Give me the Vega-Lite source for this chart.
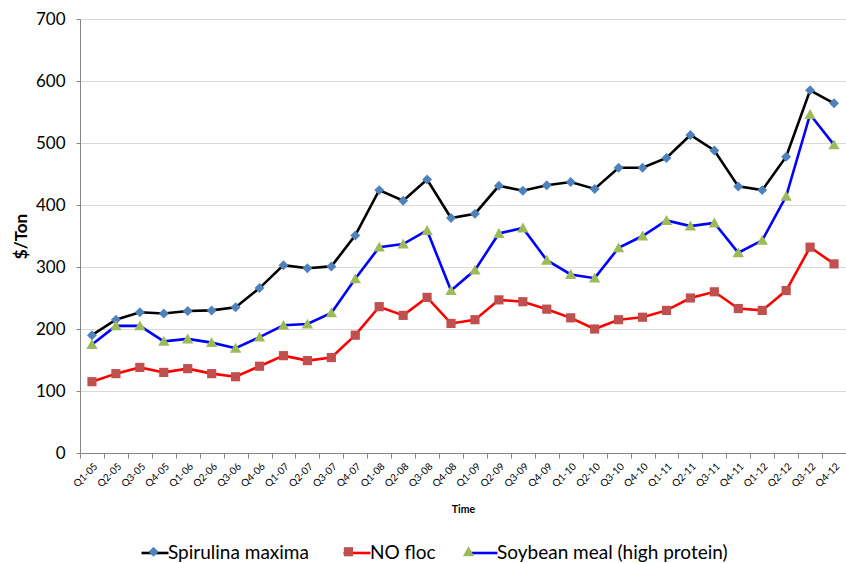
{
  "$schema": "https://vega.github.io/schema/vega-lite/v6.json",
  "width": 766,
  "height": 434,
  "autosize": {"type": "none"},
  "padding": {"left": 80, "top": 19, "right": 0, "bottom": 110},
  "background": "white",
  "config": {"view": {"stroke": null}, "font": "Lato"},
  "data": {"values": [
    {"q":"Q1-05","s":"Spirulina maxima","v":190},{"q":"Q2-05","s":"Spirulina maxima","v":215},{"q":"Q3-05","s":"Spirulina maxima","v":227},{"q":"Q4-05","s":"Spirulina maxima","v":225},
    {"q":"Q1-06","s":"Spirulina maxima","v":229},{"q":"Q2-06","s":"Spirulina maxima","v":230},{"q":"Q3-06","s":"Spirulina maxima","v":235},{"q":"Q4-06","s":"Spirulina maxima","v":266},
    {"q":"Q1-07","s":"Spirulina maxima","v":303},{"q":"Q2-07","s":"Spirulina maxima","v":298},{"q":"Q3-07","s":"Spirulina maxima","v":301},{"q":"Q4-07","s":"Spirulina maxima","v":351},
    {"q":"Q1-08","s":"Spirulina maxima","v":424},{"q":"Q2-08","s":"Spirulina maxima","v":407},{"q":"Q3-08","s":"Spirulina maxima","v":441},{"q":"Q4-08","s":"Spirulina maxima","v":379},
    {"q":"Q1-09","s":"Spirulina maxima","v":386},{"q":"Q2-09","s":"Spirulina maxima","v":431},{"q":"Q3-09","s":"Spirulina maxima","v":423},{"q":"Q4-09","s":"Spirulina maxima","v":432},
    {"q":"Q1-10","s":"Spirulina maxima","v":437},{"q":"Q2-10","s":"Spirulina maxima","v":426},{"q":"Q3-10","s":"Spirulina maxima","v":460},{"q":"Q4-10","s":"Spirulina maxima","v":460},
    {"q":"Q1-11","s":"Spirulina maxima","v":476},{"q":"Q2-11","s":"Spirulina maxima","v":513},{"q":"Q3-11","s":"Spirulina maxima","v":488},{"q":"Q4-11","s":"Spirulina maxima","v":430},
    {"q":"Q1-12","s":"Spirulina maxima","v":424},{"q":"Q2-12","s":"Spirulina maxima","v":478},{"q":"Q3-12","s":"Spirulina maxima","v":585},{"q":"Q4-12","s":"Spirulina maxima","v":564},
    {"q":"Q1-05","s":"NO floc","v":115},{"q":"Q2-05","s":"NO floc","v":128},{"q":"Q3-05","s":"NO floc","v":138},{"q":"Q4-05","s":"NO floc","v":130},
    {"q":"Q1-06","s":"NO floc","v":136},{"q":"Q2-06","s":"NO floc","v":128},{"q":"Q3-06","s":"NO floc","v":123},{"q":"Q4-06","s":"NO floc","v":140},
    {"q":"Q1-07","s":"NO floc","v":157},{"q":"Q2-07","s":"NO floc","v":149},{"q":"Q3-07","s":"NO floc","v":154},{"q":"Q4-07","s":"NO floc","v":190},
    {"q":"Q1-08","s":"NO floc","v":236},{"q":"Q2-08","s":"NO floc","v":222},{"q":"Q3-08","s":"NO floc","v":251},{"q":"Q4-08","s":"NO floc","v":209},
    {"q":"Q1-09","s":"NO floc","v":215},{"q":"Q2-09","s":"NO floc","v":247},{"q":"Q3-09","s":"NO floc","v":244},{"q":"Q4-09","s":"NO floc","v":232},
    {"q":"Q1-10","s":"NO floc","v":218},{"q":"Q2-10","s":"NO floc","v":200},{"q":"Q3-10","s":"NO floc","v":215},{"q":"Q4-10","s":"NO floc","v":219},
    {"q":"Q1-11","s":"NO floc","v":230},{"q":"Q2-11","s":"NO floc","v":250},{"q":"Q3-11","s":"NO floc","v":260},{"q":"Q4-11","s":"NO floc","v":233},
    {"q":"Q1-12","s":"NO floc","v":230},{"q":"Q2-12","s":"NO floc","v":262},{"q":"Q3-12","s":"NO floc","v":332},{"q":"Q4-12","s":"NO floc","v":305},
    {"q":"Q1-05","s":"Soybean meal (high protein)","v":175},{"q":"Q2-05","s":"Soybean meal (high protein)","v":205},{"q":"Q3-05","s":"Soybean meal (high protein)","v":205},{"q":"Q4-05","s":"Soybean meal (high protein)","v":180},
    {"q":"Q1-06","s":"Soybean meal (high protein)","v":184},{"q":"Q2-06","s":"Soybean meal (high protein)","v":178},{"q":"Q3-06","s":"Soybean meal (high protein)","v":169},{"q":"Q4-06","s":"Soybean meal (high protein)","v":187},
    {"q":"Q1-07","s":"Soybean meal (high protein)","v":206},{"q":"Q2-07","s":"Soybean meal (high protein)","v":208},{"q":"Q3-07","s":"Soybean meal (high protein)","v":226},{"q":"Q4-07","s":"Soybean meal (high protein)","v":281},
    {"q":"Q1-08","s":"Soybean meal (high protein)","v":332},{"q":"Q2-08","s":"Soybean meal (high protein)","v":337},{"q":"Q3-08","s":"Soybean meal (high protein)","v":359},{"q":"Q4-08","s":"Soybean meal (high protein)","v":262},
    {"q":"Q1-09","s":"Soybean meal (high protein)","v":295},{"q":"Q2-09","s":"Soybean meal (high protein)","v":354},{"q":"Q3-09","s":"Soybean meal (high protein)","v":363},{"q":"Q4-09","s":"Soybean meal (high protein)","v":311},
    {"q":"Q1-10","s":"Soybean meal (high protein)","v":288},{"q":"Q2-10","s":"Soybean meal (high protein)","v":282},{"q":"Q3-10","s":"Soybean meal (high protein)","v":331},{"q":"Q4-10","s":"Soybean meal (high protein)","v":350},
    {"q":"Q1-11","s":"Soybean meal (high protein)","v":375},{"q":"Q2-11","s":"Soybean meal (high protein)","v":366},{"q":"Q3-11","s":"Soybean meal (high protein)","v":371},{"q":"Q4-11","s":"Soybean meal (high protein)","v":323},
    {"q":"Q1-12","s":"Soybean meal (high protein)","v":343},{"q":"Q2-12","s":"Soybean meal (high protein)","v":414},{"q":"Q3-12","s":"Soybean meal (high protein)","v":546},{"q":"Q4-12","s":"Soybean meal (high protein)","v":497}
  ]},
  "encoding": {
    "x": {
      "field": "q", "type": "ordinal", "bandPosition": 0.5, "title": "Time",
      "scale": {"type": "band", "paddingInner": 0, "paddingOuter": 0,
        "domain": ["Q1-05","Q2-05","Q3-05","Q4-05","Q1-06","Q2-06","Q3-06","Q4-06","Q1-07","Q2-07","Q3-07","Q4-07","Q1-08","Q2-08","Q3-08","Q4-08","Q1-09","Q2-09","Q3-09","Q4-09","Q1-10","Q2-10","Q3-10","Q4-10","Q1-11","Q2-11","Q3-11","Q4-11","Q1-12","Q2-12","Q3-12","Q4-12"]},
      "axis": {"tickBand": "extent", "labelAngle": -45, "labelFontSize": 10, "labelFont": "Lato", "labelColor": "#000000",
        "domainColor": "#868686", "tickColor": "#868686", "tickSize": 5, "grid": false, "labelPadding": 3,
        "titleFont": "Lato", "titleFontSize": 10.5, "titleFontWeight": "bold", "titleColor": "#000000", "titlePadding": 16}
    },
    "y": {
      "field": "v", "type": "quantitative", "title": "$/Ton",
      "scale": {"domain": [0, 700], "nice": false},
      "axis": {"values": [0,100,200,300,400,500,600,700], "labelFontSize": 17, "labelFont": "Lato", "labelColor": "#000000",
        "domainColor": "#868686", "tickColor": "#868686", "tickSize": 4, "labelPadding": 11,
        "gridColor": "#d9d9d9", "gridWidth": 1.2,
        "titleFont": "Lato", "titleFontSize": 17, "titleFontWeight": "bold", "titleColor": "#000000", "titlePadding": 5}
    }
  },
  "layer": [
    {
      "mark": {"type": "line", "strokeWidth": 2.6},
      "encoding": {
        "stroke": {"field": "s", "type": "nominal", "sort": ["Spirulina maxima","NO floc","Soybean meal (high protein)"],
          "scale": {"range": ["#000000","#ff0000","#0000ff"]},
          "legend": {"orient": "none", "legendX": 60, "legendY": 519, "direction": "horizontal", "title": null,
            "symbolSize": 729, "symbolType": "stroke", "symbolStrokeWidth": 2.6, "labelLimit": 400,
            "labelFontSize": 19, "labelFont": "Lato", "labelColor": "#000000", "labelOffset": -2, "columnPadding": 29}
        }
      }
    },
    {
      "mark": {"type": "point", "filled": true, "size": 729, "opacity": 1, "strokeWidth": 0},
      "encoding": {
        "fill": {"field": "s", "type": "nominal",
          "scale": {"domain": ["Spirulina maxima","NO floc","Soybean meal (high protein)"], "range": ["#4f81bd","#c0504d","#9bbb59"]},
          "legend": {"orient": "none", "legendX": 60, "legendY": 519, "direction": "horizontal", "title": null,
            "symbolSize": 729, "symbolStrokeWidth": 0, "labelLimit": 400,
            "labelFontSize": 19, "labelFont": "Lato", "labelOpacity": 0, "labelOffset": -2, "columnPadding": 29}
        },
        "shape": {"field": "s", "type": "nominal",
          "scale": {"domain": ["Spirulina maxima","NO floc","Soybean meal (high protein)"], "range": ["M0,-0.37L0.37,0L0,0.37L-0.37,0Z", "M-0.34,-0.34H0.34V0.34H-0.34Z", "M0,-0.4L0.42,0.33H-0.42Z"]},
          "legend": {"orient": "none", "legendX": 60, "legendY": 519, "direction": "horizontal", "title": null,
            "symbolSize": 729, "symbolStrokeWidth": 0, "labelLimit": 400,
            "labelFontSize": 19, "labelFont": "Lato", "labelOpacity": 0, "labelOffset": -2, "columnPadding": 29}
        }
      }
    }
  ]
}
